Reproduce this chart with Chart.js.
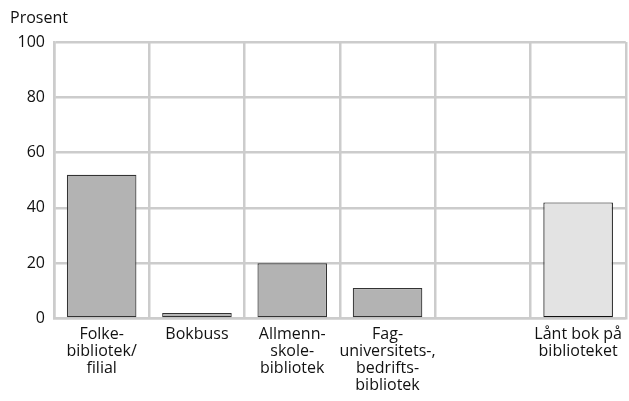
<!DOCTYPE html>
<html>
<head>
<meta charset="utf-8">
<script src="https://cdn.jsdelivr.net/npm/chart.js@4"></script>
<style>
  html, body { margin: 0; padding: 0; background: #fff; }
  #wrap { width: 629px; height: 401px; }
</style>
</head>
<body>
<div id="wrap"><canvas id="chart" width="629" height="401"></canvas></div>
<script>
// data
const categories = [
    ['Folke-', 'bibliotek/', 'filial'],
    ['Bokbuss'],
    ['Allmenn-', 'skole-', 'bibliotek'],
    ['Fag-', 'universitets-,', 'bedrifts-', 'bibliotek'],
    [''],
    ['Lånt bok på', 'biblioteket']
];
const values = [52, 2, 20, 11, null, 42];
const barColors = ['#b3b3b3', '#b3b3b3', '#b3b3b3', '#b3b3b3', '#b3b3b3', '#e3e3e3'];
const borderColors = ['#333333', '#333333', '#333333', '#333333', '#333333', '#111111'];
const yTicks = [0, 20, 40, 60, 80, 100];

const gridColor = '#cccccc';
const fontFamily = '"Open Sans", "Noto Sans", sans-serif';

// "Prosent" label above the y axis
const unitLabel = {
    id: 'unitLabel',
    afterDraw(chart) {
        const ctx = chart.ctx;
        ctx.save();
        ctx.font = '16px ' + fontFamily;
        ctx.fillStyle = '#111';
        ctx.textAlign = 'left';
        ctx.textBaseline = 'middle';
        ctx.fillText('Prosent', 10, 18);
        ctx.restore();
    }
};

new Chart(document.getElementById('chart').getContext('2d'), {
    type: 'bar',
    data: {
        labels: categories,
        datasets: [{
            data: values,
            backgroundColor: barColors,
            borderColor: borderColors,
            borderWidth: 1.2,
            borderSkipped: false,
            barPercentage: 0.73,
            categoryPercentage: 1
        }]
    },
    options: {
        responsive: false,
        animation: false,
        layout: { padding: { top: 42, right: 1, left: 0, bottom: 0 } },
        plugins: {
            legend: { display: false },
            tooltip: { enabled: false }
        },
        scales: {
            x: {
                grid: { color: gridColor, lineWidth: 2.5, offset: true, drawTicks: false },
                border: { color: gridColor, width: 2.5 },
                ticks: {
                    color: '#111',
                    font: { family: fontFamily, size: 16, lineHeight: 1.07 },
                    padding: 7,
                    maxRotation: 0,
                    autoSkip: false
                }
            },
            y: {
                min: 0,
                max: 100,
                afterFit(scale) { scale.width = 54; },
                afterBuildTicks(scale) { scale.ticks = yTicks.map(v => ({ value: v })); },
                grid: { color: gridColor, lineWidth: 2.5, drawTicks: false },
                border: { color: gridColor, width: 2.5 },
                ticks: {
                    color: '#111',
                    font: { family: fontFamily, size: 16 },
                    padding: 9
                }
            }
        }
    },
    plugins: [unitLabel]
});
</script>
</body>
</html>
